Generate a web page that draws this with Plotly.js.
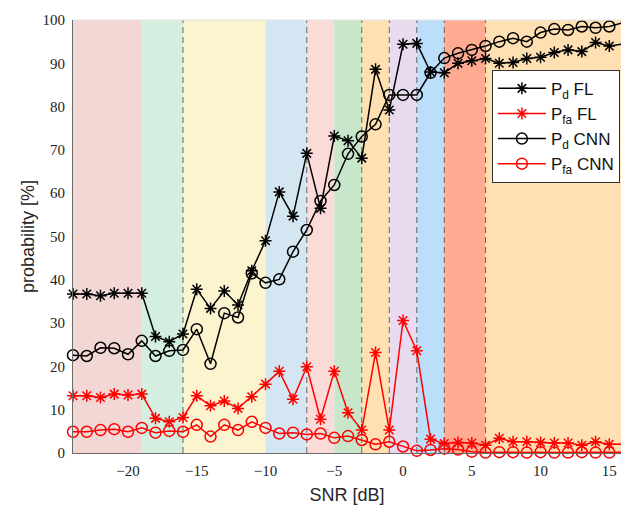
<!DOCTYPE html>
<html>
<head>
<meta charset="utf-8">
<script src="https://cdn.plot.ly/plotly-3.0.1.min.js"></script>
<style>html,body{margin:0;padding:0;background:#fff;}#chart{width:621px;height:506px;}</style>
</head>
<body>
<div id="chart"></div>
<script>
const snr = [-24,-23,-22,-21,-20,-19,-18,-17,-16,-15,-14,-13,-12,-11,-10,-9,-8,-7,-6,-5,-4,-3,-2,-1,0,1,2,3,4,5,6,7,8,9,10,11,12,13,14,15,16];

const pdFL = [36.7,36.7,36.3,36.9,36.9,36.9,26.9,25.7,27.5,37.8,33.4,37.4,34.2,42.1,49.0,60.3,54.7,69.2,56.5,73.2,72.1,68.1,88.6,79.2,94.4,94.6,88.0,87.8,90.0,90.6,91.1,90.0,90.2,91.1,91.4,92.5,93.1,92.7,94.8,94.0,94.5];

const pfaFL = [13.2,13.2,12.8,13.6,13.4,13.6,8.0,7.2,8.2,13.2,10.9,12.0,10.3,13.0,15.9,18.9,12.4,19.9,7.8,18.9,9.3,5.3,23.2,5.3,30.6,23.6,3.2,2.2,2.4,2.3,1.8,3.4,2.6,2.6,2.4,2.3,2.3,1.8,2.6,2.0,2.0];

const pdCNN = [22.6,22.4,24.3,24.2,22.8,25.9,22.4,23.6,23.8,28.6,20.6,32.3,31.3,41.5,39.3,40.1,46.5,51.5,58.2,61.9,69.1,73.1,75.9,82.7,82.7,82.7,87.8,91.2,92.3,93.1,94.0,95.0,95.8,95.0,97.1,97.9,97.7,98.5,98.2,98.5,99.4];

const pfaCNN = [4.9,4.9,5.3,5.5,4.9,5.8,4.7,5.1,4.9,6.5,3.8,6.5,5.3,7.2,5.8,4.5,4.7,4.3,4.5,3.5,3.9,3.0,2.0,2.6,1.5,0.5,0.7,1.0,0.8,0.3,0.1,0.2,0.2,0.1,0.2,0.1,0.1,0.2,0.1,0.1,0.2];

const bandEdges = [-24,-19,-16,-10,-7,-5,-3,-1,1,3,6,16];
const bandColors = ['#F2D7D5','#D4EFDF','#FCF3CF','#D4E6F1','#FADBD8','#C8E6C9','#FFE0B2','#E8DAEF','#BBDEFB','#FFAB91','#FFE0B2'];
const dashedAt = [-16,-7,-3,-1,1,3,6];

const xTicks = [-20,-15,-10,-5,0,5,10,15];
const yTicks = [0,10,20,30,40,50,60,70,80,90,100];

const shapes = [];
for (let i = 0; i < bandColors.length; i++) {
  shapes.push({type:'rect', layer:'below', xref:'x', yref:'y',
    x0:bandEdges[i], x1:bandEdges[i+1], y0:0, y1:100,
    fillcolor:bandColors[i], line:{width:0}});
}
dashedAt.forEach(v => shapes.push({type:'line', layer:'below', xref:'x', yref:'y',
  x0:v, x1:v, y0:0, y1:100, line:{color:'rgba(70,70,70,0.8)', width:1, dash:'6px,4px'}}));
shapes.push({type:'line', xref:'paper', yref:'paper', x0:0, x1:1, y0:1, y1:1,
  line:{color:'#e3e3e3', width:1}});

const common = {mode:'lines+markers', cliponaxis:false};
const traces = [
  Object.assign({x:snr, y:pdFL, name:'P<sub>d</sub> FL',
    line:{color:'black', width:1.5},
    marker:{symbol:'asterisk-open', size:10, color:'black', line:{color:'black', width:1.5}}}, common),
  Object.assign({x:snr, y:pfaFL, name:'P<sub>fa</sub> FL',
    line:{color:'red', width:1.5},
    marker:{symbol:'asterisk-open', size:10, color:'red', line:{color:'red', width:1.5}}}, common),
  Object.assign({x:snr, y:pdCNN, name:'P<sub>d</sub> CNN',
    line:{color:'black', width:1.5},
    marker:{symbol:'circle-open', size:11, color:'black', line:{color:'black', width:1.5}}}, common),
  Object.assign({x:snr, y:pfaCNN, name:'P<sub>fa</sub> CNN',
    line:{color:'red', width:1.5},
    marker:{symbol:'circle-open', size:11, color:'red', line:{color:'red', width:1.5}}}, common)
];

const layout = {
  width:621, height:506,
  margin:{l:73, r:0, t:20, b:53, autoexpand:false},
  paper_bgcolor:'white', plot_bgcolor:'white',
  showlegend:true,
  legend:{x:0.998, y:0.885, xanchor:'right', yanchor:'top',
    bgcolor:'white', bordercolor:'#333', borderwidth:1,
    font:{family:'Liberation Sans, Arial, sans-serif', size:17, color:'#111'},
    itemwidth:48, tracegroupgap:0},
  xaxis:{range:[-24,15.85], tickvals:xTicks, ticks:'', showgrid:false, zeroline:false,
    showline:true, linecolor:'#6b6b6b', linewidth:1, ticklabelstandoff:4,
    tickfont:{family:'Liberation Serif, DejaVu Serif, serif', size:15, color:'#222'},
    title:{text:'SNR [dB]', font:{family:'Liberation Sans, Arial, sans-serif', size:18, color:'#262626'}, standoff:10}},
  yaxis:{range:[0,100], tickvals:yTicks, ticks:'', showgrid:false, zeroline:false,
    showline:true, linecolor:'#6b6b6b', linewidth:1, ticklabelstandoff:4,
    tickfont:{family:'Liberation Serif, DejaVu Serif, serif', size:15, color:'#222'},
    title:{text:'probability [%]', font:{family:'Liberation Sans, Arial, sans-serif', size:18, color:'#262626'}, standoff:3}},
  shapes:shapes
};

Plotly.newPlot('chart', traces, layout, {displayModeBar:false, staticPlot:true});
</script>
</body>
</html>
